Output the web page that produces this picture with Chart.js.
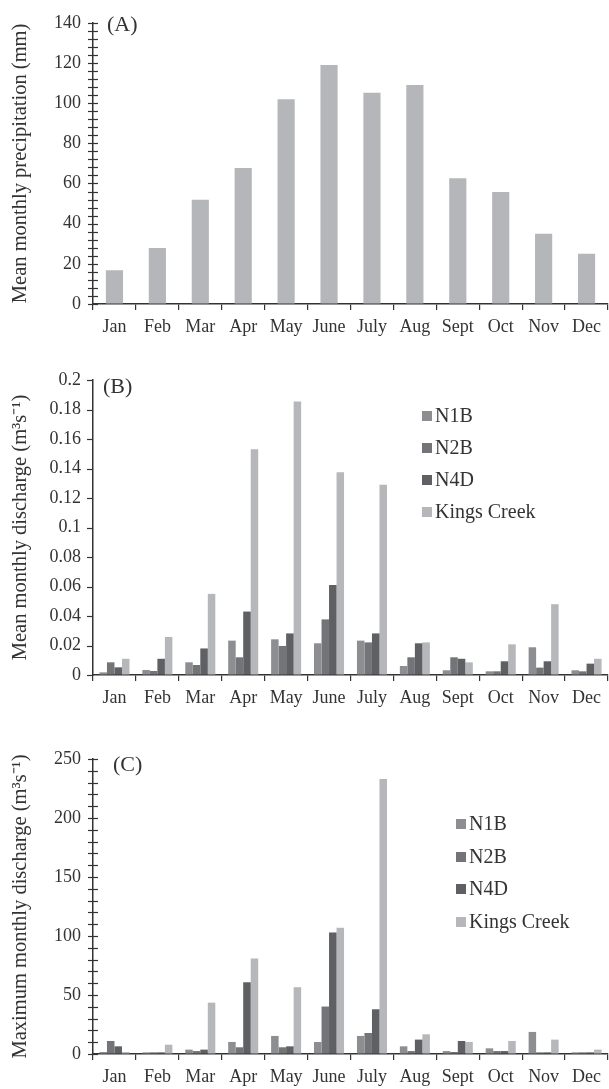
<!DOCTYPE html>
<html>
<head>
<meta charset="utf-8">
<script src="https://cdn.jsdelivr.net/npm/chart.js@4.4.1/dist/chart.umd.min.js"></script>
<style>
  body { margin: 0; background: #fff; }
  #wrap { position: relative; width: 609px; height: 1089px; }
  canvas { position: absolute; left: 0; }
</style>
</head>
<body>
<div id="wrap">
  <canvas id="chartA" width="609" height="340" style="top:0px"></canvas>
  <canvas id="chartB" width="609" height="370" style="top:340px"></canvas>
  <canvas id="chartC" width="609" height="379" style="top:710px"></canvas>
</div>
<script>
// data
const months = ['Jan', 'Feb', 'Mar', 'Apr', 'May', 'June', 'July', 'Aug', 'Sept', 'Oct', 'Nov', 'Dec'];
const precipitation = [16.8, 27.9, 51.9, 67.7, 102, 119, 105.2, 109, 62.6, 55.7, 35, 25];

const stations = ['N1B', 'N2B', 'N4D', 'Kings Creek'];
const stationColors = ['#8d8e91', '#737477', '#5f6063', '#b6b7ba'];

// (B) mean monthly discharge, m3/s
const meanN1B   = [0.0018, 0.0034, 0.0086, 0.0233, 0.0242, 0.0215, 0.0233, 0.0061, 0.0032, 0.0025, 0.0188, 0.0032];
const meanN2B   = [0.0086, 0.0027, 0.0068, 0.0120, 0.0197, 0.0377, 0.0221, 0.0120, 0.0120, 0.0025, 0.0050, 0.0025];
const meanN4D   = [0.0052, 0.0110, 0.0180, 0.0430, 0.0282, 0.0610, 0.0282, 0.0215, 0.0110, 0.0093, 0.0093, 0.0077];
const meanKings = [0.0110, 0.0258, 0.0550, 0.1530, 0.1855, 0.1375, 0.1290, 0.0221, 0.0086, 0.0208, 0.0480, 0.0110];

// (C) maximum monthly discharge, m3/s
const maxN1B   = [1.7, 1.4, 3.7, 10.2, 15.3, 10.2, 15.3, 6.5, 2.5, 4.8, 18.7, 1.4];
const maxN2B   = [11, 1.4, 2.5, 5.7, 5.7, 40.2, 17.8, 2.5, 1.7, 2.5, 1.4, 1.4];
const maxN4D   = [6.5, 1.4, 3.7, 60.8, 6.5, 103, 37.9, 12.2, 11, 2.5, 1.4, 1.4];
const maxKings = [1.7, 7.9, 43.5, 81, 56.6, 107, 233, 16.7, 10.2, 11, 12.2, 3.7];

const axisColor = '#333333';
const textColor = '#333333';
const serif = '"Liberation Serif", "Times New Roman", serif';

Chart.defaults.font.family = serif;
Chart.defaults.color = textColor;

// y ticks drawn by hand so they can cross the axis line
const yTicks = {
  id: 'yTicks',
  afterDraw(chart, args, opts) {
    const s = chart.scales.y;
    const ctx = chart.ctx;
    ctx.save();
    ctx.strokeStyle = axisColor;
    ctx.lineWidth = 1.2;
    s.ticks.forEach(t => {
      const y = Math.round(s.getPixelForValue(t.value)) + 0.5;
      ctx.beginPath();
      ctx.moveTo(s.right - opts.out, y);
      ctx.lineTo(s.right + opts.inner, y);
      ctx.stroke();
    });
    ctx.restore();
  }
};

const panelLabel = {
  id: 'panelLabel',
  afterDraw(chart, args, opts) {
    const ctx = chart.ctx;
    const a = chart.chartArea;
    ctx.save();
    ctx.fillStyle = textColor;
    ctx.font = '22px ' + serif;
    ctx.textBaseline = 'middle';
    ctx.fillText(opts.text, a.left + opts.dx, a.top + opts.dy);
    ctx.restore();
  }
};

// vertical legend sitting inside the plot area
const boxLegend = {
  id: 'boxLegend',
  afterDraw(chart, args, opts) {
    if (!opts.show) return;
    const ctx = chart.ctx;
    const a = chart.chartArea;
    ctx.save();
    ctx.font = '20px ' + serif;
    ctx.textBaseline = 'middle';
    chart.data.datasets.forEach((ds, i) => {
      const x = a.left + opts.dx;
      const y = a.top + opts.dy + i * opts.gap;
      ctx.fillStyle = ds.backgroundColor;
      ctx.fillRect(x, Math.round(y - 5), 10, 10);
      ctx.fillStyle = textColor;
      ctx.fillText(ds.label, x + 13, y + 1);
    });
    ctx.restore();
  }
};

function makeOptions(cfg) {
  return {
    responsive: false,
    animation: false,
    devicePixelRatio: 1,
    layout: { padding: { top: cfg.top, right: 1, left: 0, bottom: 0 } },
    plugins: {
      legend: { display: false },
      tooltip: { enabled: false },
      yTicks: { out: cfg.tickOut, inner: cfg.tickIn },
      panelLabel: { text: cfg.label, dx: cfg.labelDx, dy: cfg.labelDy },
      boxLegend: cfg.legend || { show: false }
    },
    scales: {
      x: {
        afterFit: s => { s.height = cfg.xHeight; },
        grid: { display: true, drawOnChartArea: false, drawTicks: true, tickLength: 6, color: axisColor, lineWidth: 1.2, offset: true },
        border: { display: true, color: axisColor, width: 1.5 },
        ticks: { font: { size: 18 }, color: textColor, padding: 6, maxRotation: 0, autoSkip: false }
      },
      y: {
        min: 0,
        max: cfg.max,
        afterFit: s => { s.width = 93; },
        afterBuildTicks: s => {
          const t = [];
          for (let v = 0; v <= cfg.max + 1e-9; v += cfg.step) t.push({ value: +v.toFixed(4) });
          s.ticks = t;
        },
        grid: { display: true, drawOnChartArea: false, drawTicks: false },
        border: { display: true, color: axisColor, width: 1.5 },
        ticks: {
          font: { size: 18 }, color: textColor, padding: 12, autoSkip: false,
          callback: cfg.tickLabel
        },
        title: {
          display: true,
          text: cfg.title,
          font: { size: 20.5 },
          color: textColor,
          padding: { top: 8, bottom: 0 }
        }
      }
    }
  };
}

// (A) precipitation
new Chart(document.getElementById('chartA'), {
  type: 'bar',
  data: {
    labels: months,
    datasets: [{
      label: 'Precipitation',
      data: precipitation,
      backgroundColor: '#b5b6b9',
      borderWidth: 0,
      categoryPercentage: 0.4,
      barPercentage: 1.0
    }]
  },
  options: makeOptions({
    top: 20, xHeight: 36, max: 140, step: 4, tickOut: 5, tickIn: 5,
    label: '(A)', labelDx: 14, labelDy: 2,
    title: 'Mean monthly precipitation (mm)',
    tickLabel: v => (Math.round(v) % 20 === 0 ? String(Math.round(v)) : '')
  }),
  plugins: [yTicks, panelLabel, boxLegend]
});

function stationSets(series) {
  return series.map((d, i) => ({
    label: stations[i],
    data: d,
    backgroundColor: stationColors[i],
    borderWidth: 0,
    categoryPercentage: 0.7,
    barPercentage: 1.0
  }));
}

// (B) mean discharge
new Chart(document.getElementById('chartB'), {
  type: 'bar',
  data: { labels: months, datasets: stationSets([meanN1B, meanN2B, meanN4D, meanKings]) },
  options: makeOptions({
    top: 40, xHeight: 35, max: 0.2, step: 0.02, tickOut: 6, tickIn: 0,
    label: '(B)', labelDx: 10, labelDy: 7,
    title: 'Mean monthly discharge (m³s⁻¹)',
    tickLabel: v => String(+(+v).toFixed(2)),
    legend: { show: true, dx: 329, dy: 36, gap: 32 }
  }),
  plugins: [yTicks, panelLabel, boxLegend]
});

// (C) maximum discharge
new Chart(document.getElementById('chartC'), {
  type: 'bar',
  data: { labels: months, datasets: stationSets([maxN1B, maxN2B, maxN4D, maxKings]) },
  options: makeOptions({
    top: 49, xHeight: 35, max: 250, step: 10, tickOut: 5, tickIn: 5,
    label: '(C)', labelDx: 20, labelDy: 6,
    title: 'Maximum monthly discharge (m³s⁻¹)',
    tickLabel: v => (Math.round(v) % 50 === 0 ? String(Math.round(v)) : ''),
    legend: { show: true, dx: 363, dy: 65, gap: 32.6 }
  }),
  plugins: [yTicks, panelLabel, boxLegend]
});
</script>
</body>
</html>
